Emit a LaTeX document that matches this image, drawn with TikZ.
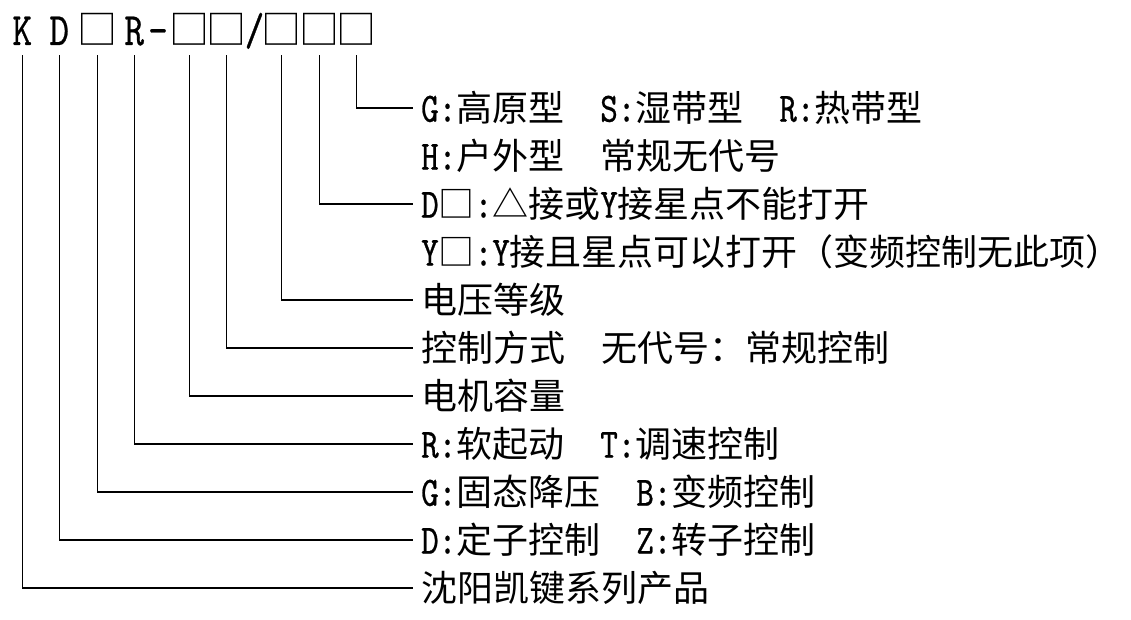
\documentclass[tikz,border=0pt]{standalone}
\usepackage{fontspec}
\setmainfont{Noto Sans CJK SC}
\newfontfamily\lat{lmmono10-regular.otf}[Scale=1.16,FakeStretch=0.8,FakeBold=0.6]
\newcommand{\gap}{\hspace{1em}}
\tikzset{
  desc/.style={anchor=west, inner xsep=8pt, inner ysep=0pt, text height=31.7pt, text depth=4.3pt, font=\fontsize{36}{43}\selectfont},
  hdr/.style={anchor=base, inner xsep=0pt, inner ysep=10pt, text depth=0pt, font=\fontsize{40}{48}\selectfont},
  lead/.style={line width=1.1pt}
}

\begin{document}
\begin{tikzpicture}[x=1pt,y=-1pt]
\useasboundingbox (0,0) rectangle (1131,620);
\foreach \x/\c/\n in {22.3/{\lat K}/h1, 59.3/{\lat D}/h2, 97.3/□/h3, 134.3/{\lat R}/h4, 158/{\lat -}/h5, 189.3/□/h6, 226.3/□/h7, 254.5/{\lat\slash}/h8, 281.7/□/h9, 319.3/□/h10, 356.7/□/h11}
  \node[hdr] (\n) at (\x,45) {\c};

\node[desc] (t0) at (413,108) {{\lat G:}高原型\gap{\lat S:}湿带型\gap{\lat R:}热带型};
\node[desc] (t1) at (413,156) {{\lat H:}户外型\gap 常规无代号};
\node[desc] (t2) at (413,204) {{\lat D}□{\lat :}△接或{\lat Y}接星点不能打开};
\node[desc] (t3) at (413,252) {{\lat Y}□{\lat :Y}接且星点可以打开（变频控制无此项）};
\node[desc] (t4) at (413,300) {电压等级};
\node[desc] (t5) at (413,348) {控制方式\gap 无代号：常规控制};
\node[desc] (t6) at (413,396) {电机容量};
\node[desc] (t7) at (413,444) {{\lat R:}软起动\gap{\lat T:}调速控制};
\node[desc] (t8) at (413,492) {{\lat G:}固态降压\gap{\lat B:}变频控制};
\node[desc] (t9) at (413,540) {{\lat D:}定子控制\gap{\lat Z:}转子控制};
\node[desc] (t10) at (413,588) {沈阳凯键系列产品};

\foreach \h/\t in {h1/t10, h2/t9, h3/t8, h4/t7, h6/t6, h7/t5, h9/t4, h10/t2, h11/t0}
  \draw[lead] (\h.south) |- (\t.west);
\end{tikzpicture}
\end{document}
